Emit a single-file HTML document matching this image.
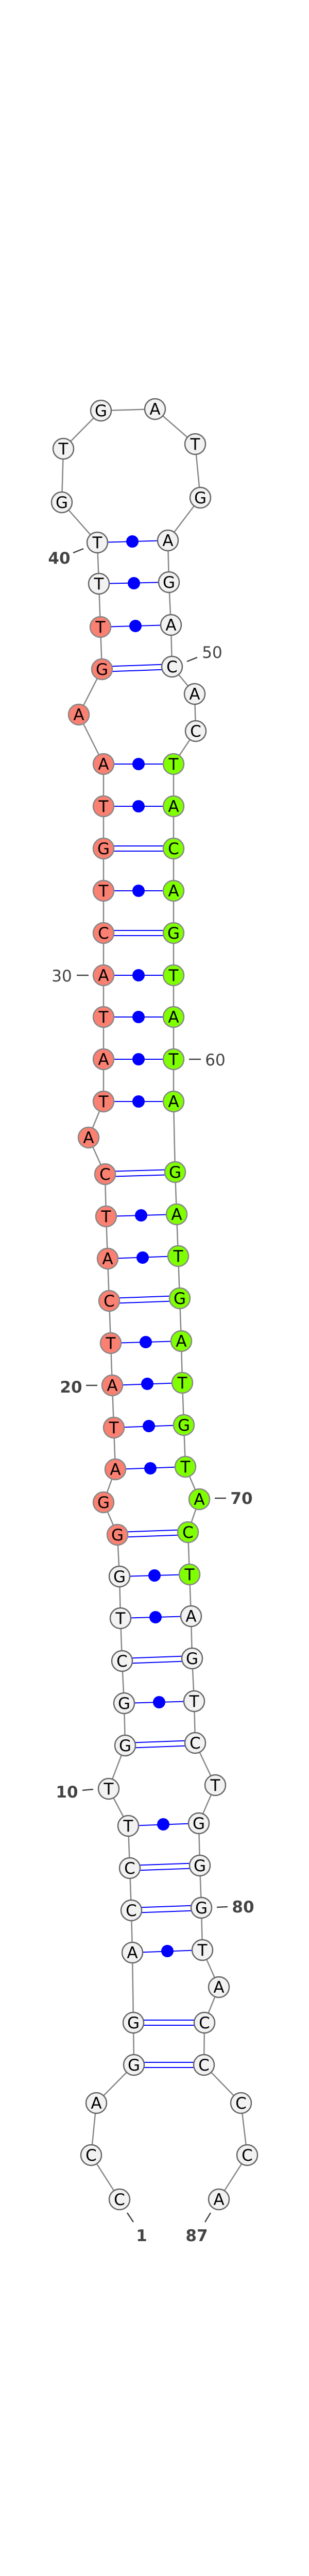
<!DOCTYPE html>
<html><head><meta charset="utf-8"><style>
html,body{margin:0;padding:0;background:#fff;width:600px;height:5082px;overflow:hidden;}
svg{display:block;position:absolute;left:0;top:0;}
.bb{fill:none;stroke:#888;stroke-width:2.5;}
.n{fill:#f2f2f2;stroke:#666;stroke-width:2.5;}
.s{fill:#fa8072;stroke:#888;stroke-width:2.5;}
.g{fill:#7fff00;stroke:#888;stroke-width:2.5;}
.p{stroke:#0000ff;stroke-width:2;}
text.l{font-family:"DejaVu Sans","Liberation Sans",sans-serif;font-size:31px;text-anchor:middle;fill:#000;}
text.num{font-family:"DejaVu Sans","Liberation Sans",sans-serif;font-size:31px;font-weight:bold;fill:#444;text-anchor:middle;}
.tk{stroke:#444;stroke-width:2.5;}
</style></head><body>
<svg width="600" height="5082" viewBox="0 0 600 5082" xmlns="http://www.w3.org/2000/svg">
<polyline class="bb" points="232,4269 177,4183 187,4082 260,4008 259,3926 257,3790 255,3708 252,3626 249,3544 211,3472 243,3388 241,3306 237,3224 234,3141 232,3060 228,2979 201,2916 224,2852 221,2771 218,2689 215,2607 212,2525 209,2443 206,2361 204,2279 172,2208 201,2138 201,2056 201,1974 201,1893 201,1811 201,1729 201,1647 201,1565 201,1483 153,1387 198,1299 195,1217 192,1133 189,1053 120,975 123,871 196,797 301,794 379,862 389,966 326,1049 328,1130 332,1213 334,1294 378,1347 380,1419 337,1483 337,1565 337,1647 337,1729 337,1811 337,1893 337,1974 337,2056 337,2138 340,2275 343,2357 346,2438 349,2520 352,2603 354,2684 357,2766 360,2847 387,2910 365,2974 368,3056 371,3137 373,3219 377,3302 379,3383 418,3465 386,3539 388,3621 391,3703 393,3785 425,3857 397,3926 396,4008 468,4082 480,4183 425,4269"/>
<g>
<line class="p" x1="260" y1="4003" x2="396" y2="4003"/><line class="p" x1="260" y1="4013" x2="396" y2="4013"/>
<line class="p" x1="259" y1="3921" x2="397" y2="3921"/><line class="p" x1="259" y1="3931" x2="397" y2="3931"/>
<line class="p" x1="255" y1="3703" x2="391" y2="3698"/><line class="p" x1="255" y1="3713" x2="391" y2="3708"/>
<line class="p" x1="252" y1="3621" x2="388" y2="3616"/><line class="p" x1="252" y1="3631" x2="388" y2="3626"/>
<line class="p" x1="243" y1="3383" x2="379" y2="3378"/><line class="p" x1="243" y1="3393" x2="379" y2="3388"/>
<line class="p" x1="237" y1="3219" x2="373" y2="3214"/><line class="p" x1="237" y1="3229" x2="373" y2="3224"/>
<line class="p" x1="228" y1="2974" x2="365" y2="2969"/><line class="p" x1="228" y1="2984" x2="365" y2="2979"/>
<line class="p" x1="212" y1="2520" x2="349" y2="2515"/><line class="p" x1="212" y1="2530" x2="349" y2="2525"/>
<line class="p" x1="204" y1="2274" x2="340" y2="2270"/><line class="p" x1="204" y1="2284" x2="340" y2="2280"/>
<line class="p" x1="201" y1="1806" x2="337" y2="1806"/><line class="p" x1="201" y1="1816" x2="337" y2="1816"/>
<line class="p" x1="201" y1="1642" x2="337" y2="1642"/><line class="p" x1="201" y1="1652" x2="337" y2="1652"/>
<line class="p" x1="198" y1="1294" x2="334" y2="1289"/><line class="p" x1="198" y1="1304" x2="334" y2="1299"/>
<line class="p" x1="257" y1="3790" x2="393" y2="3785"/><circle cx="325" cy="3787" r="12" fill="#0000ff"/>
<line class="p" x1="249" y1="3544" x2="386" y2="3539"/><circle cx="317" cy="3541" r="12" fill="#0000ff"/>
<line class="p" x1="241" y1="3306" x2="377" y2="3302"/><circle cx="309" cy="3304" r="12" fill="#0000ff"/>
<line class="p" x1="234" y1="3141" x2="371" y2="3137"/><circle cx="302" cy="3139" r="12" fill="#0000ff"/>
<line class="p" x1="232" y1="3060" x2="368" y2="3056"/><circle cx="300" cy="3058" r="12" fill="#0000ff"/>
<line class="p" x1="224" y1="2852" x2="360" y2="2847"/><circle cx="292" cy="2850" r="12" fill="#0000ff"/>
<line class="p" x1="221" y1="2771" x2="357" y2="2766"/><circle cx="289" cy="2768" r="12" fill="#0000ff"/>
<line class="p" x1="218" y1="2689" x2="354" y2="2684"/><circle cx="286" cy="2686" r="12" fill="#0000ff"/>
<line class="p" x1="215" y1="2607" x2="352" y2="2603"/><circle cx="283" cy="2605" r="12" fill="#0000ff"/>
<line class="p" x1="209" y1="2443" x2="346" y2="2438"/><circle cx="277" cy="2441" r="12" fill="#0000ff"/>
<line class="p" x1="206" y1="2361" x2="343" y2="2357"/><circle cx="274" cy="2359" r="12" fill="#0000ff"/>
<line class="p" x1="201" y1="2138" x2="337" y2="2138"/><circle cx="269" cy="2138" r="12" fill="#0000ff"/>
<line class="p" x1="201" y1="2056" x2="337" y2="2056"/><circle cx="269" cy="2056" r="12" fill="#0000ff"/>
<line class="p" x1="201" y1="1974" x2="337" y2="1974"/><circle cx="269" cy="1974" r="12" fill="#0000ff"/>
<line class="p" x1="201" y1="1893" x2="337" y2="1893"/><circle cx="269" cy="1893" r="12" fill="#0000ff"/>
<line class="p" x1="201" y1="1729" x2="337" y2="1729"/><circle cx="269" cy="1729" r="12" fill="#0000ff"/>
<line class="p" x1="201" y1="1565" x2="337" y2="1565"/><circle cx="269" cy="1565" r="12" fill="#0000ff"/>
<line class="p" x1="201" y1="1483" x2="337" y2="1483"/><circle cx="269" cy="1483" r="12" fill="#0000ff"/>
<line class="p" x1="195" y1="1217" x2="332" y2="1213"/><circle cx="263" cy="1215" r="12" fill="#0000ff"/>
<line class="p" x1="192" y1="1133" x2="328" y2="1130"/><circle cx="260" cy="1132" r="12" fill="#0000ff"/>
<line class="p" x1="189" y1="1053" x2="326" y2="1049"/><circle cx="257" cy="1051" r="12" fill="#0000ff"/>
</g>
<g>
<circle class="n" cx="232" cy="4269" r="20"/><text class="l" x="232" y="4280">C</text>
<circle class="n" cx="177" cy="4183" r="20"/><text class="l" x="177" y="4194">C</text>
<circle class="n" cx="187" cy="4082" r="20"/><text class="l" x="187" y="4093">A</text>
<circle class="n" cx="260" cy="4008" r="20"/><text class="l" x="260" y="4019">G</text>
<circle class="n" cx="259" cy="3926" r="20"/><text class="l" x="259" y="3937">G</text>
<circle class="n" cx="257" cy="3790" r="20"/><text class="l" x="257" y="3801">A</text>
<circle class="n" cx="255" cy="3708" r="20"/><text class="l" x="255" y="3719">C</text>
<circle class="n" cx="252" cy="3626" r="20"/><text class="l" x="252" y="3637">C</text>
<circle class="n" cx="249" cy="3544" r="20"/><text class="l" x="249" y="3555">T</text>
<circle class="n" cx="211" cy="3472" r="20"/><text class="l" x="211" y="3483">T</text>
<circle class="n" cx="243" cy="3388" r="20"/><text class="l" x="243" y="3399">G</text>
<circle class="n" cx="241" cy="3306" r="20"/><text class="l" x="241" y="3317">G</text>
<circle class="n" cx="237" cy="3224" r="20"/><text class="l" x="237" y="3235">C</text>
<circle class="n" cx="234" cy="3141" r="20"/><text class="l" x="234" y="3152">T</text>
<circle class="n" cx="232" cy="3060" r="20"/><text class="l" x="232" y="3071">G</text>
<circle class="s" cx="228" cy="2979" r="20"/><text class="l" x="228" y="2990">G</text>
<circle class="s" cx="201" cy="2916" r="20"/><text class="l" x="201" y="2927">G</text>
<circle class="s" cx="224" cy="2852" r="20"/><text class="l" x="224" y="2863">A</text>
<circle class="s" cx="221" cy="2771" r="20"/><text class="l" x="221" y="2782">T</text>
<circle class="s" cx="218" cy="2689" r="20"/><text class="l" x="218" y="2700">A</text>
<circle class="s" cx="215" cy="2607" r="20"/><text class="l" x="215" y="2618">T</text>
<circle class="s" cx="212" cy="2525" r="20"/><text class="l" x="212" y="2536">C</text>
<circle class="s" cx="209" cy="2443" r="20"/><text class="l" x="209" y="2454">A</text>
<circle class="s" cx="206" cy="2361" r="20"/><text class="l" x="206" y="2372">T</text>
<circle class="s" cx="204" cy="2279" r="20"/><text class="l" x="204" y="2290">C</text>
<circle class="s" cx="172" cy="2208" r="20"/><text class="l" x="172" y="2219">A</text>
<circle class="s" cx="201" cy="2138" r="20"/><text class="l" x="201" y="2149">T</text>
<circle class="s" cx="201" cy="2056" r="20"/><text class="l" x="201" y="2067">A</text>
<circle class="s" cx="201" cy="1974" r="20"/><text class="l" x="201" y="1985">T</text>
<circle class="s" cx="201" cy="1893" r="20"/><text class="l" x="201" y="1904">A</text>
<circle class="s" cx="201" cy="1811" r="20"/><text class="l" x="201" y="1822">C</text>
<circle class="s" cx="201" cy="1729" r="20"/><text class="l" x="201" y="1740">T</text>
<circle class="s" cx="201" cy="1647" r="20"/><text class="l" x="201" y="1658">G</text>
<circle class="s" cx="201" cy="1565" r="20"/><text class="l" x="201" y="1576">T</text>
<circle class="s" cx="201" cy="1483" r="20"/><text class="l" x="201" y="1494">A</text>
<circle class="s" cx="153" cy="1387" r="20"/><text class="l" x="153" y="1398">A</text>
<circle class="s" cx="198" cy="1299" r="20"/><text class="l" x="198" y="1310">G</text>
<circle class="s" cx="195" cy="1217" r="20"/><text class="l" x="195" y="1228">T</text>
<circle class="n" cx="192" cy="1133" r="20"/><text class="l" x="192" y="1144">T</text>
<circle class="n" cx="189" cy="1053" r="20"/><text class="l" x="189" y="1064">T</text>
<circle class="n" cx="120" cy="975" r="20"/><text class="l" x="120" y="986">G</text>
<circle class="n" cx="123" cy="871" r="20"/><text class="l" x="123" y="882">T</text>
<circle class="n" cx="196" cy="797" r="20"/><text class="l" x="196" y="808">G</text>
<circle class="n" cx="301" cy="794" r="20"/><text class="l" x="301" y="805">A</text>
<circle class="n" cx="379" cy="862" r="20"/><text class="l" x="379" y="873">T</text>
<circle class="n" cx="389" cy="966" r="20"/><text class="l" x="389" y="977">G</text>
<circle class="n" cx="326" cy="1049" r="20"/><text class="l" x="326" y="1060">A</text>
<circle class="n" cx="328" cy="1130" r="20"/><text class="l" x="328" y="1141">G</text>
<circle class="n" cx="332" cy="1213" r="20"/><text class="l" x="332" y="1224">A</text>
<circle class="n" cx="334" cy="1294" r="20"/><text class="l" x="334" y="1305">C</text>
<circle class="n" cx="378" cy="1347" r="20"/><text class="l" x="378" y="1358">A</text>
<circle class="n" cx="380" cy="1419" r="20"/><text class="l" x="380" y="1430">C</text>
<circle class="g" cx="337" cy="1483" r="20"/><text class="l" x="337" y="1494">T</text>
<circle class="g" cx="337" cy="1565" r="20"/><text class="l" x="337" y="1576">A</text>
<circle class="g" cx="337" cy="1647" r="20"/><text class="l" x="337" y="1658">C</text>
<circle class="g" cx="337" cy="1729" r="20"/><text class="l" x="337" y="1740">A</text>
<circle class="g" cx="337" cy="1811" r="20"/><text class="l" x="337" y="1822">G</text>
<circle class="g" cx="337" cy="1893" r="20"/><text class="l" x="337" y="1904">T</text>
<circle class="g" cx="337" cy="1974" r="20"/><text class="l" x="337" y="1985">A</text>
<circle class="g" cx="337" cy="2056" r="20"/><text class="l" x="337" y="2067">T</text>
<circle class="g" cx="337" cy="2138" r="20"/><text class="l" x="337" y="2149">A</text>
<circle class="g" cx="340" cy="2275" r="20"/><text class="l" x="340" y="2286">G</text>
<circle class="g" cx="343" cy="2357" r="20"/><text class="l" x="343" y="2368">A</text>
<circle class="g" cx="346" cy="2438" r="20"/><text class="l" x="346" y="2449">T</text>
<circle class="g" cx="349" cy="2520" r="20"/><text class="l" x="349" y="2531">G</text>
<circle class="g" cx="352" cy="2603" r="20"/><text class="l" x="352" y="2614">A</text>
<circle class="g" cx="354" cy="2684" r="20"/><text class="l" x="354" y="2695">T</text>
<circle class="g" cx="357" cy="2766" r="20"/><text class="l" x="357" y="2777">G</text>
<circle class="g" cx="360" cy="2847" r="20"/><text class="l" x="360" y="2858">T</text>
<circle class="g" cx="387" cy="2910" r="20"/><text class="l" x="387" y="2921">A</text>
<circle class="g" cx="365" cy="2974" r="20"/><text class="l" x="365" y="2985">C</text>
<circle class="g" cx="368" cy="3056" r="20"/><text class="l" x="368" y="3067">T</text>
<circle class="n" cx="371" cy="3137" r="20"/><text class="l" x="371" y="3148">A</text>
<circle class="n" cx="373" cy="3219" r="20"/><text class="l" x="373" y="3230">G</text>
<circle class="n" cx="377" cy="3302" r="20"/><text class="l" x="377" y="3313">T</text>
<circle class="n" cx="379" cy="3383" r="20"/><text class="l" x="379" y="3394">C</text>
<circle class="n" cx="418" cy="3465" r="20"/><text class="l" x="418" y="3476">T</text>
<circle class="n" cx="386" cy="3539" r="20"/><text class="l" x="386" y="3550">G</text>
<circle class="n" cx="388" cy="3621" r="20"/><text class="l" x="388" y="3632">G</text>
<circle class="n" cx="391" cy="3703" r="20"/><text class="l" x="391" y="3714">G</text>
<circle class="n" cx="393" cy="3785" r="20"/><text class="l" x="393" y="3796">T</text>
<circle class="n" cx="425" cy="3857" r="20"/><text class="l" x="425" y="3868">A</text>
<circle class="n" cx="397" cy="3926" r="20"/><text class="l" x="397" y="3937">C</text>
<circle class="n" cx="396" cy="4008" r="20"/><text class="l" x="396" y="4019">C</text>
<circle class="n" cx="468" cy="4082" r="20"/><text class="l" x="468" y="4093">C</text>
<circle class="n" cx="480" cy="4183" r="20"/><text class="l" x="480" y="4194">C</text>
<circle class="n" cx="425" cy="4269" r="20"/><text class="l" x="425" y="4280">A</text>
</g>
<g>
<line class="tk" x1="142" y1="1073" x2="162" y2="1065"/><text class="num" x="115" y="1094">40</text>
<line class="tk" x1="363" y1="1284" x2="383" y2="1276"/><text class="num" x="412" y="1277" style="font-weight:normal">50</text>
<line class="tk" x1="149" y1="1893" x2="172" y2="1893"/><text class="num" x="120" y="1905" style="font-weight:normal">30</text>
<line class="tk" x1="367" y1="2056" x2="390" y2="2056"/><text class="num" x="418" y="2068" style="font-weight:normal">60</text>
<line class="tk" x1="167" y1="2689" x2="189" y2="2689"/><text class="num" x="138" y="2703">20</text>
<line class="tk" x1="417" y1="2908" x2="439" y2="2908"/><text class="num" x="469" y="2919">70</text>
<line class="tk" x1="160" y1="3475" x2="181" y2="3473"/><text class="num" x="130" y="3489">10</text>
<line class="tk" x1="421" y1="3702" x2="442" y2="3701"/><text class="num" x="472" y="3712">80</text>
<line class="tk" x1="247" y1="4295" x2="259" y2="4313"/><text class="num" x="275" y="4350">1</text>
<line class="tk" x1="409" y1="4295" x2="398" y2="4313"/><text class="num" x="382" y="4350">87</text>
</g>
<text x="300" y="5077" text-anchor="middle" style="font-family:'Liberation Sans','DejaVu Sans',sans-serif;font-size:11px;fill:#000;"><tspan font-weight="bold">mmu-mir-144_annot</tspan> [-38.5]</text>
</svg>
</body></html>
